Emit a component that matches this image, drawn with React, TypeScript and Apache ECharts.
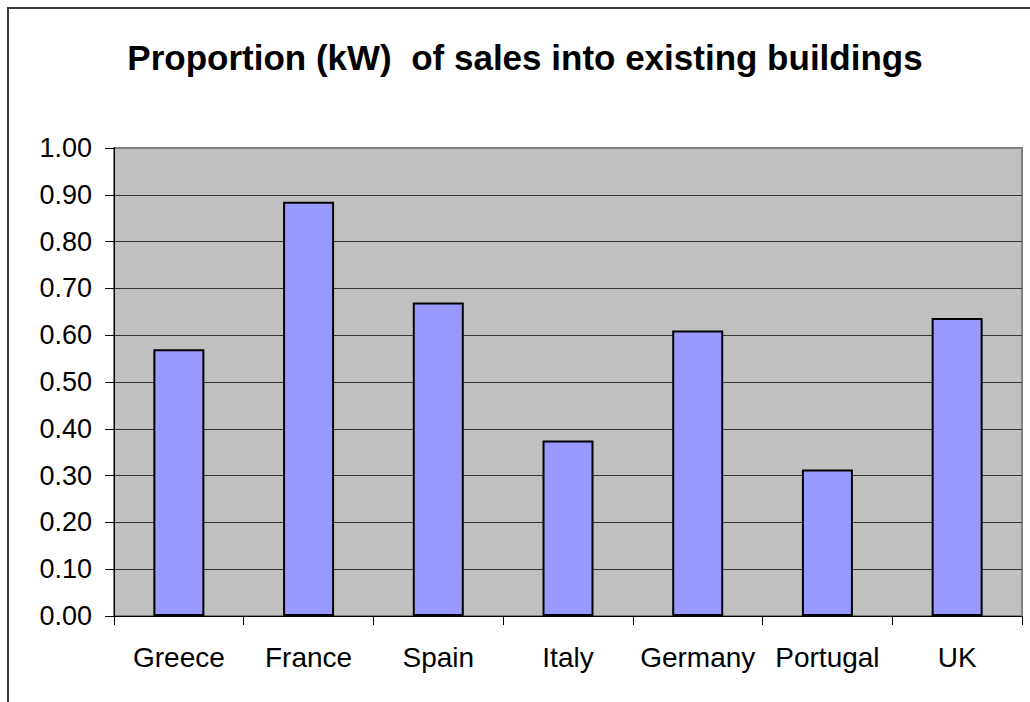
import React, { useEffect, useRef } from "react";
import * as echarts from "echarts";

const categories = ["Greece", "France", "Spain", "Italy", "Germany", "Portugal", "UK"];
const values = [0.57, 0.885, 0.67, 0.375, 0.61, 0.313, 0.637];
const titleText = "Proportion (kW)  of sales into existing buildings";

export default function App() {
  const ref = useRef<HTMLDivElement>(null);
  useEffect(() => {
    if (!ref.current) return;
    const chart = echarts.init(ref.current, null, { renderer: "svg" });
    chart.setOption({
      animation: false,
      backgroundColor: "#ffffff",
      textStyle: { fontFamily: "Liberation Sans, Arial, sans-serif" },
      graphic: [
        {
          type: "rect",
          shape: { x: 8, y: 8, width: 1040, height: 720 },
          style: { fill: "none", stroke: "#3a3a3a", lineWidth: 2 },
          silent: true,
        },
        {
          type: "text",
          x: 525,
          y: 57,
          style: {
            text: titleText,
            fontSize: 35,
            fontWeight: "bold",
            fontFamily: "Liberation Sans, Arial, sans-serif",
            fill: "#000",
            textAlign: "center",
            textVerticalAlign: "middle",
          },
        },
      ],
      grid: {
        left: 114,
        top: 148,
        right: 8,
        bottom: 86,
        show: true,
        backgroundColor: "#C0C0C0",
        borderColor: "#808080",
        borderWidth: 2,
      },
      xAxis: {
        type: "category",
        data: categories,
        axisLine: { lineStyle: { color: "#000", width: 1 } },
        axisTick: { show: true, interval: 0, length: 9, lineStyle: { color: "#000" } },
        axisLabel: { color: "#000", fontSize: 28, margin: 27, interval: 0 },
      },
      yAxis: {
        type: "value",
        min: 0,
        max: 1,
        interval: 0.1,
        axisLine: { show: true, lineStyle: { color: "#000", width: 1 } },
        axisTick: { show: true, length: 9, lineStyle: { color: "#000" } },
        axisLabel: {
          color: "#000",
          fontSize: 27,
          margin: 22,
          formatter: (v: number) => v.toFixed(2),
        },
        splitLine: { show: true, showMaxLine: false, lineStyle: { color: "#333", width: 1 } },
      },
      series: [
        {
          type: "bar",
          data: values,
          barWidth: 51,
          itemStyle: { color: "#9999FF", borderColor: "#000", borderWidth: 2 },
        },
      ],
    });
    return () => chart.dispose();
  }, []);
  return (
    <div
      ref={ref}
      style={{ position: "fixed", left: 0, top: 0, width: 1030, height: 702 }}
    />
  );
}
